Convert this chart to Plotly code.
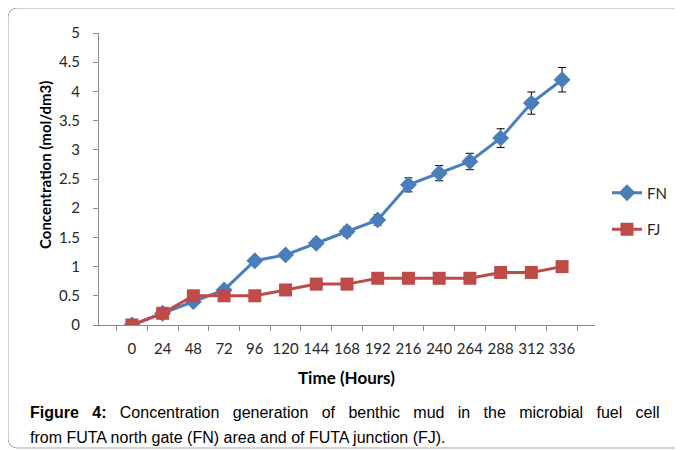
import plotly.graph_objects as go

hours = ["0", "24", "48", "72", "96", "120", "144", "168", "192", "216", "240", "264", "288", "312", "336"]
fn_values = [0, 0.2, 0.4, 0.6, 1.1, 1.2, 1.4, 1.6, 1.8, 2.4, 2.6, 2.8, 3.2, 3.8, 4.2]
fj_values = [0, 0.2, 0.5, 0.5, 0.5, 0.6, 0.7, 0.7, 0.8, 0.8, 0.8, 0.8, 0.9, 0.9, 1.0]
fn_error_percent = 5

OFF = 8  # page body margin
W, H = 683 - OFF, 450 - OFF
L, T = 99 - OFF, 33 - OFF
R = W - (595 - OFF)
B = H - (325 - OFF)
pw, ph = W - L - R, H - T - B

def px(x):
    return (x - OFF - L) / pw

def py(y):
    return (H - B - (y - OFF)) / ph

tick_font = dict(family="Lato, Open Sans, sans-serif", size=15, color="#262626")
cap_font = dict(family="Liberation Sans, Arial, sans-serif", size=16, color="#000000")

fig = go.Figure()
fig.add_trace(go.Scatter(
    x=hours, y=fn_values, name="FN", mode="lines+markers",
    line=dict(color="#4A7EBB", width=3),
    marker=dict(symbol="diamond", size=13, color="#4A7EBB"),
    error_y=dict(type="percent", value=fn_error_percent, color="#000000", thickness=1, width=4),
    legendgroup="a",
))
fig.add_trace(go.Scatter(
    x=hours, y=fj_values, name="FJ", mode="lines+markers",
    line=dict(color="#BE4B48", width=3),
    marker=dict(symbol="square", size=13, color="#BE4B48"),
    legendgroup="b",
))

fig.update_xaxes(
    type="category", showline=True, linecolor="#8c8c8c", linewidth=1,
    ticks="outside", ticklen=5, tickcolor="#8c8c8c", tickson="boundaries",
    showgrid=False, zeroline=False, tickfont=tick_font, ticklabelstandoff=10, tickangle=0,
)
fig.update_yaxes(
    range=[0, 5], dtick=0.5, showline=True, linecolor="#8c8c8c", linewidth=1,
    ticks="outside", ticklen=5, tickcolor="#8c8c8c",
    showgrid=False, zeroline=False, tickfont=tick_font, ticklabelstandoff=10,
)

r = 10
x0, x1 = px(8), px(700)
y0, y1 = py(8), py(448)
rx, ry = r / pw, r / ph
path = (f"M {x0+rx},{y0} L {x1-rx},{y0} Q {x1},{y0} {x1},{y0-ry} "
        f"L {x1},{y1+ry} Q {x1},{y1} {x1-rx},{y1} L {x0+rx},{y1} Q {x0},{y1} {x0},{y1+ry} "
        f"L {x0},{y0-ry} Q {x0},{y0} {x0+rx},{y0} Z")
fig.add_shape(type="path", path=path, xref="paper", yref="paper",
              line=dict(color="#a6a6a6", width=1), layer="below")

fig.add_annotation(x=px(45), y=py(165), xref="paper", yref="paper", text="<b>Concentration (mol/dm3)</b>",
                   textangle=-90, showarrow=False,
                   font=dict(family="Lato, Open Sans, sans-serif", size=15, color="#000000"),
                   xanchor="center", yanchor="middle")
fig.add_annotation(x=px(346), y=py(377), xref="paper", yref="paper", text="<b>Time (Hours)</b>",
                   showarrow=False,
                   font=dict(family="Lato, Open Sans, sans-serif", size=17, color="#000000"),
                   xanchor="center", yanchor="middle")

gap = " &nbsp;&nbsp;"
line1_words = ["Concentration", "generation", "of", "benthic", "mud", "in", "the", "microbial", "fuel", "cell"]
line1 = "<b>Figure" + gap + "4:</b>" + gap + gap.join(line1_words)
fig.add_annotation(x=px(28), y=py(413), xref="paper", yref="paper",
                   text=line1,
                   showarrow=False, font=cap_font, xanchor="left", yanchor="middle")
fig.add_annotation(x=px(28), y=py(437), xref="paper", yref="paper",
                   text="from FUTA north gate (FN) area and of FUTA junction (FJ).",
                   showarrow=False, font=cap_font, xanchor="left", yanchor="middle")

fig.update_layout(
    width=W, height=H, autosize=False,
    margin=dict(l=L, r=R, t=T, b=B, autoexpand=False),
    paper_bgcolor="white", plot_bgcolor="white",
    showlegend=True,
    legend=dict(x=px(607), y=py(211), xanchor="left", yanchor="middle",
                font=dict(family="Lato, Open Sans, sans-serif", size=15, color="#262626"),
                tracegroupgap=14, itemwidth=30, bgcolor="rgba(0,0,0,0)"),
)

fig.write_html("out.html")
